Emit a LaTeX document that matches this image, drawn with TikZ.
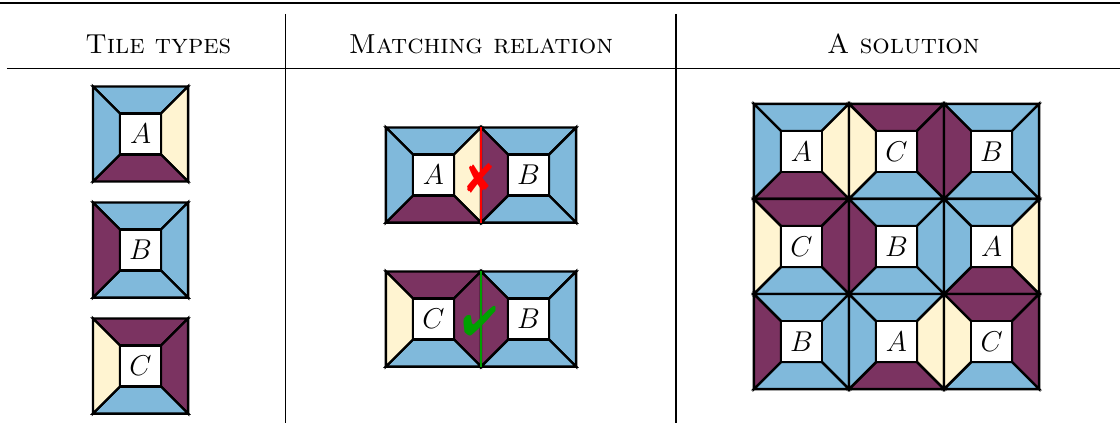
\documentclass[tikz,border=0pt]{standalone}
\usepackage{amsmath}
\usepackage{pifont}
\usetikzlibrary{positioning}

\definecolor{tileblue}{HTML}{80B9DB}
\definecolor{tilepurple}{HTML}{7B3361}
\definecolor{tilecream}{HTML}{FFF4D1}
\definecolor{okgreen}{HTML}{00A000}

% one tile: name, centre, top, right, bottom, left, letter
\newcommand{\drawtile}[7]{%
  \begin{scope}[shift={(#2)}]
    \filldraw[fill=#3] (-0.7,0.7) -- (0.7,0.7) -- (0.3,0.3) -- (-0.3,0.3) -- cycle;
    \filldraw[fill=#4] (0.7,0.7) -- (0.7,-0.7) -- (0.3,-0.3) -- (0.3,0.3) -- cycle;
    \filldraw[fill=#5] (0.7,-0.7) -- (-0.7,-0.7) -- (-0.3,-0.3) -- (0.3,-0.3) -- cycle;
    \filldraw[fill=#6] (-0.7,-0.7) -- (-0.7,0.7) -- (-0.3,0.3) -- (-0.3,-0.3) -- cycle;
    \node[letterbox] (#1) at (0,0) {$#7$};
  \end{scope}}
\newcommand{\tileA}[2]{\drawtile{#1}{#2}{tileblue}{tilecream}{tilepurple}{tileblue}{A}}
\newcommand{\tileB}[2]{\drawtile{#1}{#2}{tileblue}{tileblue}{tileblue}{tilepurple}{B}}
\newcommand{\tileC}[2]{\drawtile{#1}{#2}{tilepurple}{tilepurple}{tileblue}{tilecream}{C}}

\begin{document}
\begin{tikzpicture}[line width=1pt,
    letterbox/.style={draw, fill=white, minimum size=0.6cm, inner sep=0pt, font=\large},
    colhead/.style={font=\fontsize{11.5}{14}\selectfont\scshape},
    rule/.style={line width=0.6pt}]
        \useasboundingbox (0,0) rectangle (16.49,-6.228);

        % Table rules
        \draw[rule] (0,-0.044) -- (16.49,-0.044);
        \draw[rule] (0.103,-1.009) -- (16.49,-1.009);
        \draw[rule] (4.206,-0.206) -- (4.206,-6.228);
        \draw[rule] (9.953,-0.206) -- (9.953,-6.228);

        % Headers
        \node[colhead] (hdtypes) at (2.33,-0.648) {Tile types};
        \node[colhead] (hdmatch) at (7.082,-0.648) {Matching relation};
        \node[colhead] (hdsol) at (13.30,-0.648) {A solution};

        % Tile types
        \tileA{typeA}{2.069,-1.973}
        \tileB{typeB}{2.069,-3.681}
        \tileC{typeC}{2.069,-5.389}

        % Matching relation: A next to B fails
        \tileA{badA}{6.382,-2.577}
        \tileB{badB}{7.782,-2.577}
        \coordinate (badtop) at (7.082,-1.877);
        \coordinate (badbot) at (7.082,-3.277);
        \draw[red, line width=1.2pt] (badtop) -- (badbot);
        \node[red, font=\LARGE] (cross) at (7.06,-2.62) {\ding{56}};

        % Matching relation: C next to B fits
        \tileC{goodC}{6.382,-4.697}
        \tileB{goodB}{7.782,-4.697}
        \coordinate (goodtop) at (7.082,-3.997);
        \coordinate (goodbot) at (7.082,-5.397);
        \draw[okgreen, line width=1.2pt] (goodtop) -- (goodbot);
        \node[okgreen, font=\LARGE] (check) at (7.06,-4.73) {\ding{52}};

        % A solution
        \foreach \t/\c/\r in {A/0/0, C/1/0, B/2/0, C/0/1, B/1/1, A/2/1, B/0/2, A/1/2, C/2/2}
            \csname tile\t\endcsname{sol-\c-\r}{11.799+1.4*\c,-2.229-1.4*\r};
\end{tikzpicture}
\end{document}
